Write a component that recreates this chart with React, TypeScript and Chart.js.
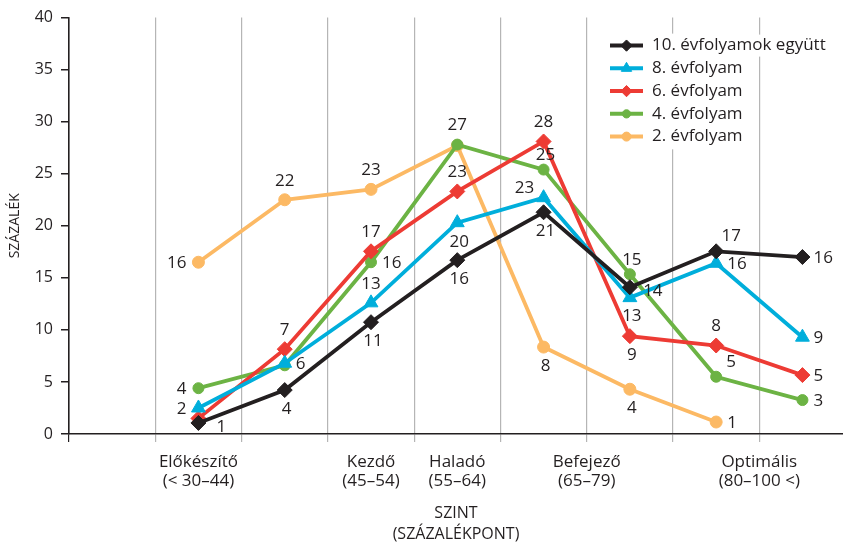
import React, { useEffect, useRef } from 'react';
import { Chart, registerables } from 'chart.js';
import { drawPoint } from 'chart.js/helpers';

Chart.register(...registerables);

// ---------- data ----------
const levels = [1, 2, 3, 4, 5, 6, 7, 8];

const seriesNames = ['10. évfolyamok együtt', '8. évfolyam', '6. évfolyam', '4. évfolyam', '2. évfolyam'];

const grade10 = [1.06, 4.22, 10.74, 16.7, 21.3, 14.1, 17.55, 17.0];
const grade8 = [2.5, 6.8, 12.6, 20.3, 22.7, 13.1, 16.4, 9.3];
const grade6 = [1.5, 8.15, 17.55, 23.3, 28.1, 9.4, 8.5, 5.66];
const grade4 = [4.4, 6.6, 16.5, 27.8, 25.4, 15.35, 5.5, 3.26];
const grade2 = [16.5, 22.5, 23.5, 27.7, 8.35, 4.3, 1.15];

const grade10Labels = ['1', '4', '11', '16', '21', '14', '17', '16'];
const grade8Labels = ['2', '6', '13', '20', '23', '13', '16', '9'];
const grade6Labels = ['', '7', '17', '23', '28', '9', '8', '5'];
const grade4Labels = ['4', '', '16', '27', '25', '15', '5', '3'];
const grade2Labels = ['16', '22', '23', '', '8', '4', '1'];

// label placement codes (style)
const grade10Place = ['br', 'b', 'b', 'b', 'b', 'br', 'tr', 'r'];
const grade8Place = ['l', 'r', 't', 'b', 'tl', 'b', 'r', 'r'];
const grade6Place = ['', 't', 't', 't', 't', 'b', 't', 'r'];
const grade4Place = ['l', '', 'r', 't', 'tn', 'tn', 'tr', 'r'];
const grade2Place = ['l', 't', 't', '', 'b', 'b', 'r'];

const categoryPositions = [1, 3, 4, 5.5, 7.5];
const categoryLabels = [
  ['Előkészítő', '(< 30–44)'],
  ['Kezdő', '(45–54)'],
  ['Haladó', '(55–64)'],
  ['Befejező', '(65–79)'],
  ['Optimális', '(80–100 <)'],
];
const gridPositions = [-0.5, 0.5, 1.5, 2.5, 3.5, 4.5, 5.5, 6.5, 7.5];

const yTitle = 'SZÁZALÉK';
const xTitle = ['SZINT', '(SZÁZALÉKPONT)'];

// ---------- styles ----------
const FONT = '"Open Sans", "Noto Sans", sans-serif';
const TEXT = '#231f20';
const colors = ['#231f20', '#00aedb', '#ed3b34', '#6cb344', '#fcb964'];
const pointStyles = ['rectRot', 'triangle', 'rectRot', 'circle', 'circle'];
const pointRadii = [7.5, 8, 7.5, 5.5, 6];

const placeOffsets: Record<string, [number, number, CanvasTextAlign]> = {
  t: [0, -19, 'center'],
  tn: [2, -14, 'center'],
  b: [2, 19, 'center'],
  l: [-12, 1, 'right'],
  r: [11, 1, 'left'],
  tr: [15, -15, 'center'],
  tl: [-19, -10, 'center'],
  br: [23, 4, 'center'],
};

const seriesValues = [grade10, grade8, grade6, grade4, grade2];
const seriesLabels = [grade10Labels, grade8Labels, grade6Labels, grade4Labels, grade2Labels];
const seriesPlace = [grade10Place, grade8Place, grade6Place, grade4Place, grade2Place];

const dataLabelPlugin = {
  id: 'dataLabels',
  afterDatasetsDraw(chart: any) {
    const ctx = chart.ctx;
    ctx.save();
    ctx.font = `17px ${FONT}`;
    ctx.fillStyle = TEXT;
    ctx.textBaseline = 'middle';
    chart.data.datasets.forEach((_ds: any, i: number) => {
      const meta = chart.getDatasetMeta(i);
      meta.data.forEach((el: any, j: number) => {
        const txt = seriesLabels[i][j];
        const code = seriesPlace[i][j];
        if (!txt || !code) return;
        const [dx, dy, align] = placeOffsets[code];
        ctx.textAlign = align;
        ctx.fillText(txt, el.x + dx, el.y + dy);
      });
    });
    ctx.restore();
  },
};

const legendPlugin = {
  id: 'customLegend',
  afterDraw(chart: any) {
    const ctx = chart.ctx;
    const area = chart.chartArea;
    const x0 = area.right - 233;
    const y0 = area.top + 28;
    const rowH = 22.75;
    ctx.save();
    ctx.font = `17px ${FONT}`;
    ctx.fillStyle = '#ffffff';
    ctx.fillRect(x0 - 6, y0 - 12, 150, rowH * 5 + 2);
    const w0 = ctx.measureText(seriesNames[0]).width;
    ctx.fillRect(x0 + 40, y0 - 11, w0 + 6, 22);
    chart.data.datasets.forEach((ds: any, i: number) => {
      const y = y0 + i * rowH;
      ctx.strokeStyle = ds.borderColor;
      ctx.lineWidth = 4;
      ctx.beginPath();
      ctx.moveTo(x0, y);
      ctx.lineTo(x0 + 33, y);
      ctx.stroke();
      ctx.fillStyle = ds.borderColor;
      ctx.lineWidth = 1;
      drawPoint(ctx, { pointStyle: ds.pointStyle, radius: ds.pointRadius * 0.75, rotation: 0, borderWidth: 1 }, x0 + 16.5, y);
      ctx.fillStyle = TEXT;
      ctx.textAlign = 'left';
      ctx.textBaseline = 'middle';
      ctx.fillText(ds.label, x0 + 42, y);
    });
    ctx.restore();
  },
};

export default function App() {
  const ref = useRef<HTMLCanvasElement>(null);
  useEffect(() => {
    document.body.style.margin = '0';
    const datasets = seriesValues.map((vals, i) => ({
      label: seriesNames[i],
      data: vals.map((v, j) => ({ x: levels[j], y: v })),
      borderColor: colors[i],
      backgroundColor: colors[i],
      pointBackgroundColor: colors[i],
      pointBorderColor: colors[i],
      pointBorderWidth: 1,
      pointStyle: pointStyles[i],
      pointRadius: pointRadii[i],
      borderWidth: 3.8,
      tension: 0,
    }));
    const chart = new Chart(ref.current!, {
      type: 'line',
      data: { datasets },
      plugins: [dataLabelPlugin, legendPlugin],
      options: {
        animation: false,
        responsive: false,
        layout: { autoPadding: false, padding: { top: 17, left: 0, right: 0, bottom: 0 } },
        plugins: { legend: { display: false }, tooltip: { enabled: false } },
        scales: {
          x: {
            type: 'linear',
            position: 'bottom',
            min: -0.5,
            max: 8.47,
            afterBuildTicks: (s: any) => {
              s.ticks = gridPositions.map((v) => ({ value: v }));
            },
            afterFit: (s: any) => {
              s.height = 8;
              s.paddingLeft = 0;
              s.paddingRight = 0;
            },
            ticks: { display: false },
            grid: {
              color: (c: any) => (c.tick && c.tick.value === -0.5 ? TEXT : '#b5b5b5'),
              lineWidth: 1.2,
              drawTicks: true,
              tickLength: 8,
            },
            border: { color: TEXT, width: 1.5 },
          },
          x2: {
            type: 'linear',
            position: 'bottom',
            min: -0.5,
            max: 8.47,
            afterBuildTicks: (s: any) => {
              s.ticks = categoryPositions.map((v) => ({ value: v }));
            },
            afterFit: (s: any) => {
              s.height = 101;
              s.paddingLeft = 0;
              s.paddingRight = 0;
            },
            ticks: {
              autoSkip: false,
              maxRotation: 0,
              padding: 10,
              color: TEXT,
              font: { family: FONT, size: 17, lineHeight: 1.15 },
              callback: (_v: any, i: number) => categoryLabels[i],
            },
            grid: { display: false, drawTicks: false },
            border: { display: false },
            title: {
              display: true,
              text: xTitle,
              color: TEXT,
              font: { family: FONT, size: 16, lineHeight: 1.3 },
              padding: { top: 0, bottom: -2 },
            },
          },
          y: {
            min: 0,
            max: 40,
            afterFit: (s: any) => {
              s.width = 69;
            },
            ticks: { stepSize: 5, padding: 8, color: TEXT, font: { family: FONT, size: 16 } },
            grid: { drawOnChartArea: false, drawTicks: true, tickLength: 8, color: TEXT, lineWidth: 1.5 },
            border: { color: TEXT, width: 1.5 },
            title: {
              display: true,
              text: yTitle,
              color: TEXT,
              font: { family: FONT, size: 14 },
              padding: { top: 6.5, bottom: 0 },
            },
          },
        },
      },
    } as any);
    return () => chart.destroy();
  }, []);
  return <canvas ref={ref} width={843} height={543} style={{ display: 'block' }} />;
}
